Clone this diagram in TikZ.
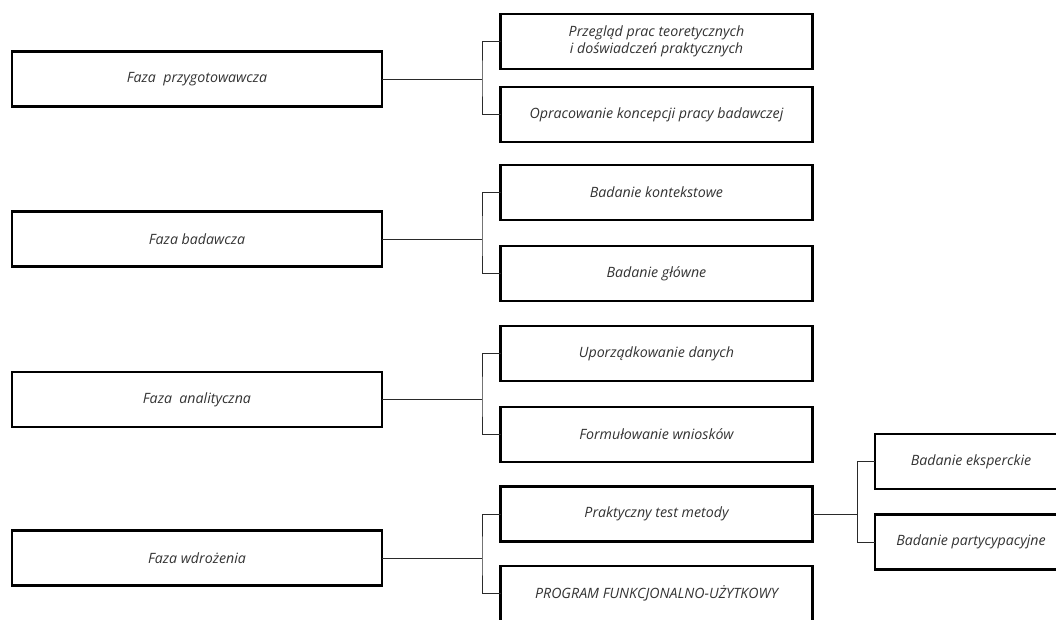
\documentclass[tikz,border=0pt]{standalone}
\usepackage{fontspec}
\setmainfont{Open Sans}
\definecolor{txt}{HTML}{333333}
\definecolor{conn}{HTML}{2A2A2A}
\begin{document}
\begin{tikzpicture}[x=1pt,y=-1pt,
  box/.style={draw=black,line width=2.4pt,fill=white,inner sep=0pt,outer sep=0pt,
    minimum height=55pt,align=center,text=txt,font=\fontsize{14.2}{17.5}\selectfont\itshape},
  phase/.style={box,minimum width=370pt},
  task/.style={box,minimum width=312pt},
  sub/.style={box,minimum width=192pt},
  conn/.style={draw=conn,line width=1pt}]
\useasboundingbox (0,0) rectangle (1056,619);
\clip (0,0) rectangle (1056,619);
% phases
\node[phase] (f1) at (197,79) {Faza\ \ przygotowawcza};
\node[phase] (f2) at (197,239) {Faza badawcza};
\node[phase] (f3) at (197,399.5) {Faza\ \ analityczna};
\node[phase] (f4) at (197,558) {Faza wdrożenia};
% tasks
\node[task] (t11) at (656.5,41.5) {Przegląd prac teoretycznych\\i doświadczeń praktycznych};
\node[task] (t12) at (656.5,114.5) {Opracowanie koncepcji pracy badawczej};
\node[task] (t21) at (656.5,192.5) {Badanie kontekstowe};
\node[task] (t22) at (656.5,273.5) {Badanie główne};
\node[task] (t31) at (656.5,353.5) {Uporządkowanie danych};
\node[task] (t32) at (656.5,434.5) {Formułowanie wniosków};
\node[task] (t41) at (656.5,514) {Praktyczny test metody};
\node[task] (t42) at (656.5,593.5) {PROGRAM FUNKCJONALNO-UŻYTKOWY};
% sub tasks
\node[sub] (s1) at (971,461.5) {Badanie eksperckie};
\node[sub] (s2) at (971,542) {Badanie partycypacyjne};
% junctions
\coordinate (j1) at (482,79);
\coordinate (j2) at (482,239);
\coordinate (j3) at (482,399.5);
\coordinate (j4) at (482,558);
\coordinate (j5) at (857,514);
% connectors
\draw[conn] (f1.east) -- (j1);
\draw[conn] (t11.west) -| (j1) |- (t12.west);
\draw[conn] (f2.east) -- (j2);
\draw[conn] (t21.west) -| (j2) |- (t22.west);
\draw[conn] (f3.east) -- (j3);
\draw[conn] (t31.west) -| (j3) |- (t32.west);
\draw[conn] (f4.east) -- (j4);
\draw[conn] (t41.west) -| (j4) |- (t42.west);
\draw[conn] (t41.east) -- (j5);
\draw[conn] (s1.west) -| (j5) |- (s2.west);
\end{tikzpicture}
\end{document}
